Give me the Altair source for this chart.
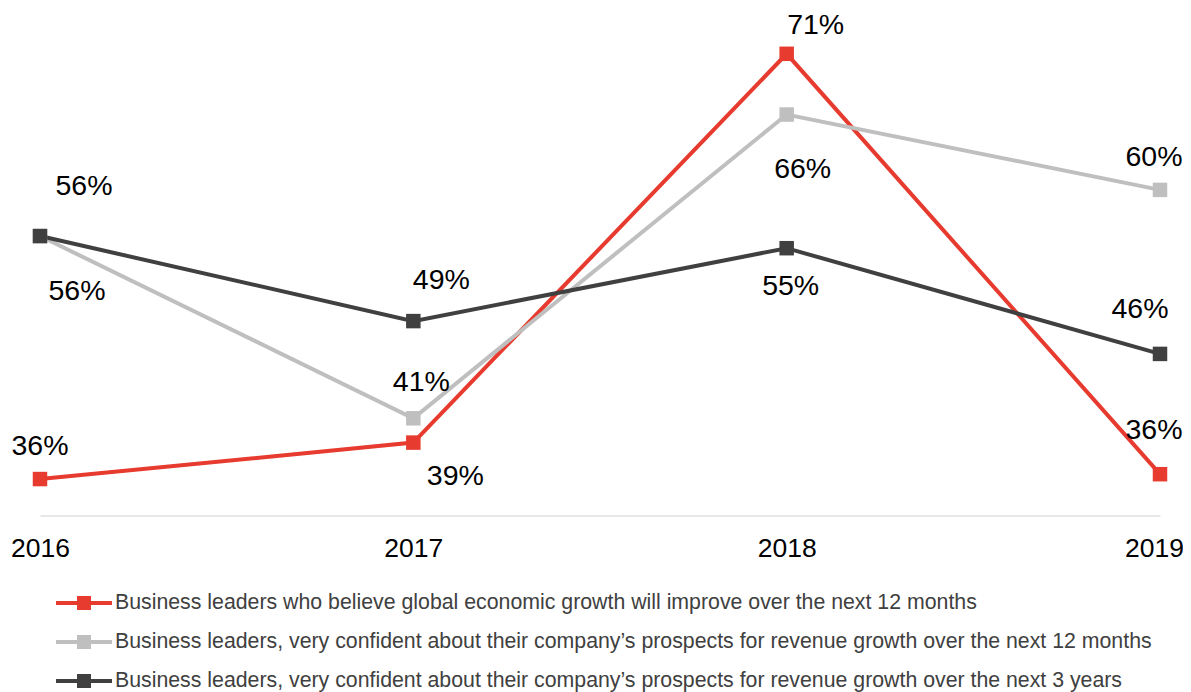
import altair as alt
import pandas as pd

# ---- data ----
years = ["2016", "2017", "2018", "2019"]
series_names = [
    "Business leaders who believe global economic growth will improve over the next 12 months",
    "Business leaders, very confident about their company\u2019s prospects for revenue growth over the next 12 months",
    "Business leaders, very confident about their company\u2019s prospects for revenue growth over the next 3 years",
]
global_growth = [36, 39, 71, 36.4]
revenue_12m = [56, 41, 66, 59.8]
revenue_3y = [56, 49, 55, 46.3]
global_labels = ["36%", "39%", "71%", "36%"]
revenue_12m_labels = ["56%", "41%", "66%", "60%"]
revenue_3y_labels = ["56%", "49%", "55%", "46%"]

colors = ["#E63B2E", "#BFBFBF", "#404040"]

# label offsets (pixels) for each series/year, styling only
label_offsets = [
    [(0, -33), (42, 33), (29, -29), (-6, -44)],
    [(37, 55), (8, -36), (16, 54), (-6, -33)],
    [(44, -50), (28, -41), (4, 38), (-20, -45)],
]

rows = []
for s, vals, labs in zip(series_names,
                         [global_growth, revenue_12m, revenue_3y],
                         [global_labels, revenue_12m_labels, revenue_3y_labels]):
    for y, v, l in zip(years, vals, labs):
        rows.append({"series": s, "year": y, "value": v, "label": l})
df = pd.DataFrame(rows)

FONT = "Liberation Sans"

x_enc = alt.X("year:O", scale=alt.Scale(type="point", padding=0),
              axis=alt.Axis(title=None, labelAngle=0, labelFontSize=26.5, labelFont=FONT,
                            labelColor="#000000", ticks=False, domainColor="#D0D0D0",
                            domainWidth=1, labelPadding=20, grid=False,
                            labelOffset={"condition": {"test": "datum.value === '2019'", "value": -6},
                                         "value": 0}))
y_enc = alt.Y("value:Q", scale=alt.Scale(domain=[33, 73], zero=False, nice=False), axis=None)

sym_path = ("M-2,0H2M-0.5,-0.36H0.5M-0.5,-0.12H0.5M-0.5,0.12H0.5M-0.5,0.36H0.5")

legend = alt.Legend(
    orient="none", legendX=28, legendY=557.5, direction="vertical", title=None,
    symbolType=sym_path, symbolSize=784, symbolStrokeWidth=4,
    labelFontSize=21.3, labelFont=FONT, labelColor="#404040", labelOffset=15,
    rowPadding=9, labelLimit=1100, padding=0,
)

color_scale = alt.Scale(domain=series_names, range=colors)

base = alt.Chart(df)

lines = base.mark_line(strokeWidth=4).encode(
    x=x_enc, y=y_enc,
    color=alt.Color("series:N", scale=color_scale, sort=None, legend=legend),
)

points = base.mark_square(size=210, opacity=1).encode(
    x=x_enc, y=y_enc,
    fill=alt.Fill("series:N", scale=color_scale, sort=None, legend=None),
)

text_layers = []
for si, s in enumerate(series_names):
    for yi, yr in enumerate(years):
        dx, dy = label_offsets[si][yi]
        sub = df[(df["series"] == s) & (df["year"] == yr)]
        text_layers.append(
            alt.Chart(sub).mark_text(dx=dx, dy=dy, fontSize=28.5, font=FONT, color="#000000",
                                     baseline="middle", align="center").encode(
                x=x_enc, y=y_enc, text="label:N")
        )

chart = alt.layer(lines, points, *text_layers).properties(
    width=1120, height=486,
    autosize=alt.AutoSizeParams(type="none"),
    padding={"left": 32, "top": 21.5, "right": 23, "bottom": 178},
).resolve_scale(color="shared").configure_view(stroke=None)

chart.save("out.html", embed_options={"renderer": "svg", "actions": False})
